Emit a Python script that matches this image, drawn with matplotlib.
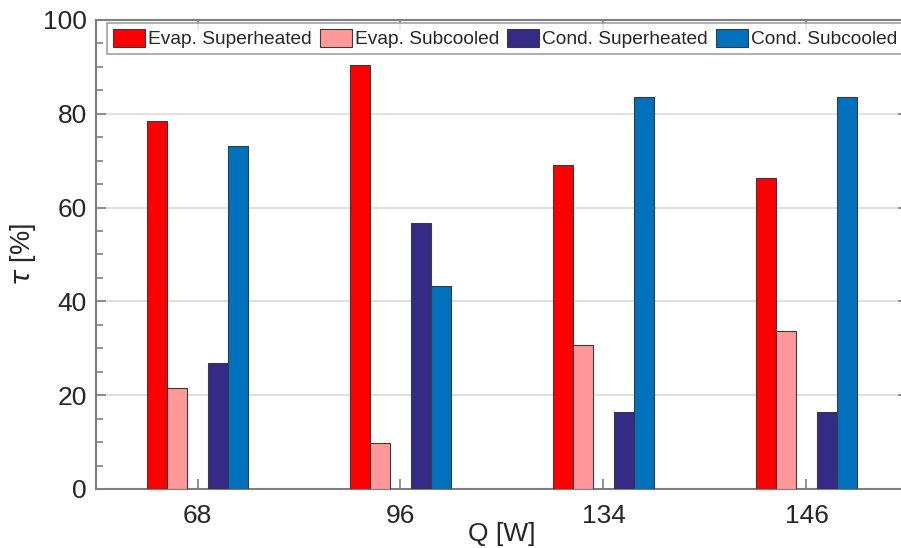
import matplotlib
matplotlib.use("Agg")
import matplotlib.pyplot as plt
import numpy as np
from matplotlib.ticker import MultipleLocator

plt.rcParams['font.family'] = ['Liberation Sans', 'DejaVu Sans']

categories = ["68", "96", "134", "146"]
series_names = ["Evap. Superheated", "Evap. Subcooled", "Cond. Superheated", "Cond. Subcooled"]
evap_superheated = [78.5, 90.3, 69.0, 66.3]
evap_subcooled = [21.5, 9.8, 30.8, 33.7]
cond_superheated = [26.9, 56.7, 16.4, 16.5]
cond_subcooled = [73.1, 43.2, 83.5, 83.5]
colors = ["#ff0000", "#ff9999", "#352a85", "#0072bd"]

W, H = 901, 548
fig = plt.figure(figsize=(W / 100, H / 100), dpi=100)
ax = fig.add_axes([96 / W, 1 - 489 / H, (908 - 96) / W, (489 - 20) / H])

x = np.arange(1, len(categories) + 1)
width = 0.1
offsets = [-2, -1, 1, 2]
data = [evap_superheated, evap_subcooled, cond_superheated, cond_subcooled]
for vals, off, c, name in zip(data, offsets, colors, series_names):
    ax.bar(x + off * width, vals, width, color=c, edgecolor="#3a3a3a",
           linewidth=0.8, label=name, zorder=3)

ax.set_xlim(0.5, 4.5)
ax.set_ylim(0, 100)
ax.set_xticks(x)
ax.set_xticklabels(categories)
ax.set_yticks(np.arange(0, 101, 20))
ax.yaxis.set_minor_locator(MultipleLocator(5))
ax.grid(axis="y", which="major", color="#dcdcdc", linewidth=1.2, zorder=0)
ax.set_axisbelow(True)

axis_col = "#7f7f7f"
for s in ax.spines.values():
    s.set_color(axis_col)
    s.set_linewidth(1.5)
ax.tick_params(axis="both", which="both", direction="in", colors=axis_col,
               labelcolor="#262626", labelsize=19, top=True, right=True)
ax.tick_params(axis="both", which="major", length=7, width=1.2)
ax.tick_params(axis="x", which="major", pad=11)
ax.tick_params(axis="y", which="major", pad=6.5)
ax.tick_params(axis="y", which="minor", length=5, width=1.2)
ax.tick_params(axis="x", which="minor", bottom=False, top=False)

ax.set_ylabel(r"$\tau$ [%]", fontsize=19.5, color="#262626", va="center")
ax.yaxis.set_label_coords((23 - 96) / 812, 0.5)
ax.set_xlabel("Q [W]", fontsize=19, color="#262626", va="center")
ax.xaxis.set_label_coords((502 - 96) / 812, -(534 - 489) / 469)

leg = ax.legend(loc="upper left", bbox_to_anchor=(107 / W, 1 - 23 / H),
                bbox_transform=fig.transFigure, ncol=4, fontsize=13.8,
                frameon=True, fancybox=False, edgecolor="#8a8a8a",
                handlelength=1.7, handleheight=1.05, handletextpad=0.15,
                columnspacing=0.4, borderpad=0.3, borderaxespad=0)
leg.get_frame().set_linewidth(1.2)
for t in leg.get_texts():
    t.set_color("#262626")

fig.savefig("out.png", dpi=100)
